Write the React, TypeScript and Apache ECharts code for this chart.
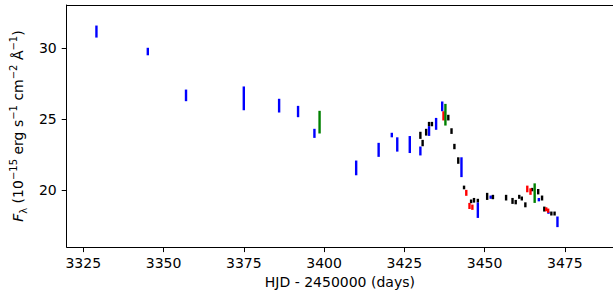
import React, { useEffect, useRef } from "react";
import * as echarts from "echarts";

// HJD - 2450000 (days), lower and upper error-bar ends of F_lambda
const blueT = [3329.1, 3345.1, 3357.0, 3375.0, 3386.0, 3391.9, 3397.0, 3410.0, 3417.0, 3421.1, 3422.8, 3426.7, 3430.0, 3432.7, 3434.9, 3436.8, 3442.8, 3447.9, 3451.9, 3466.9, 3469.9, 3472.7];
const blueLo = [30.75, 29.5, 26.26, 25.62, 25.46, 25.13, 23.67, 21.03, 22.33, 23.71, 22.7, 22.6, 22.43, 23.81, 24.24, 25.55, 20.9, 18.02, 19.37, 19.19, 18.31, 17.37];
const blueHi = [31.6, 30.03, 27.08, 27.3, 26.43, 25.93, 24.31, 22.07, 23.32, 24.03, 23.71, 23.8, 23.06, 24.5, 25.08, 26.24, 22.3, 19.12, 19.6, 19.43, 18.47, 18.12];

const blackT = [3430.0, 3430.7, 3431.8, 3432.7, 3433.6, 3438.7, 3439.7, 3440.6, 3441.8, 3443.6, 3445.8, 3446.7, 3447.9, 3450.8, 3452.6, 3456.7, 3458.7, 3459.7, 3460.8, 3461.6, 3462.7, 3464.8, 3466.7, 3467.9, 3468.6, 3470.8, 3471.8];
const blackLo = [23.6, 23.08, 23.83, 24.5, 24.49, 24.9, 23.95, 22.87, 21.84, 20.04, 19.06, 19.1, 19.12, 19.29, 19.34, 19.25, 19.01, 18.98, 19.37, 19.25, 18.77, 19.9, 19.68, 19.25, 18.47, 18.19, 18.19];
const blackHi = [24.1, 23.53, 24.31, 24.8, 24.8, 25.3, 24.35, 23.25, 22.3, 20.3, 19.32, 19.43, 19.37, 19.79, 19.65, 19.65, 19.43, 19.29, 19.65, 19.53, 19.12, 20.14, 20.06, 19.6, 18.82, 18.47, 18.47];

const redT = [3437.2, 3444.3, 3445.3, 3446.2, 3463.3, 3464.3, 3469.2, 3469.8];
const redLo = [24.9, 19.58, 18.65, 18.59, 19.83, 19.65, 18.49, 18.38];
const redHi = [25.55, 20.0, 19.08, 18.96, 20.3, 20.11, 18.77, 18.68];

const greenT = [3398.6, 3437.8, 3465.6];
const greenLo = [23.98, 24.54, 19.08];
const greenHi = [25.58, 26.07, 20.46];

const xTicks = [3325, 3350, 3375, 3400, 3425, 3450, 3475];
const yTicks = [20, 25, 30];

const X_MIN = 3319.84;
const X_MAX = 3490;
const FONT = "DejaVu Sans";

function makeSeries(name: string, color: string, t: number[], lo: number[], hi: number[]) {
  return {
    name,
    type: "custom",
    xAxisIndex: 0,
    yAxisIndex: 0,
    data: t.map((v, i) => [v, lo[i], hi[i]]),
    encode: { x: 0, y: [1, 2] },
    renderItem: (params: any, api: any) => {
      const a = api.coord([api.value(0), api.value(1)]);
      const b = api.coord([api.value(0), api.value(2)]);
      const w = 2.4;
      return {
        type: "rect",
        shape: { x: a[0] - w / 2, y: b[1], width: w, height: a[1] - b[1] },
        style: { fill: color },
      };
    },
  };
}

export default function App() {
  const ref = useRef<HTMLDivElement>(null);
  useEffect(() => {
    if (!ref.current) return;
    const chart = echarts.init(ref.current, null, { renderer: "svg" });
    chart.setOption({
      animation: false,
      backgroundColor: "#ffffff",
      grid: { left: 64.3, top: 5, width: 551, bottom: 46.7, show: false, containLabel: false },
      xAxis: [
        {
          type: "value",
          min: X_MIN,
          max: X_MAX,
          splitLine: { show: false },
          axisLine: { show: true, lineStyle: { color: "#000", width: 1 } },
          axisTick: { show: true, length: 5, inside: false, lineStyle: { color: "#000" }, customValues: xTicks },
          axisLabel: {
            customValues: xTicks,
            margin: 9,
            color: "#000",
            fontSize: 14,
            fontFamily: FONT,
            formatter: (v: number) => String(v),
          },
          name: "HJD - 2450000 (days)",
          nameLocation: "middle",
          nameGap: 26,
          nameTextStyle: { color: "#000", fontSize: 14, fontFamily: FONT, verticalAlign: "top" },
        },
        {
          type: "value",
          position: "top",
          min: X_MIN,
          max: X_MAX,
          splitLine: { show: false },
          axisLine: { show: true, lineStyle: { color: "#000", width: 1 } },
          axisTick: { show: false },
          axisLabel: { show: false },
        },
      ],
      yAxis: {
        type: "value",
        min: 15.96,
        max: 33.05,
        splitLine: { show: false },
        axisLine: { show: true, lineStyle: { color: "#000", width: 1 } },
        axisTick: { show: true, length: 5, inside: false, lineStyle: { color: "#000" }, customValues: yTicks },
        axisLabel: { customValues: yTicks, margin: 10, color: "#000", fontSize: 14, fontFamily: FONT },
        name: "{i|F}{sub|λ} (10{sup|−15} erg s{sup|−1} cm{sup|−2} Å{sup|−1})",
        nameLocation: "middle",
        nameRotate: 90,
        nameGap: 38,
        nameTextStyle: {
          color: "#000",
          fontSize: 14,
          fontFamily: FONT,
          lineHeight: 20,
          rich: {
            i: { fontSize: 14, fontStyle: "italic", fontFamily: FONT, color: "#000", lineHeight: 20 },
            sub: { fontSize: 10, fontFamily: FONT, color: "#000", verticalAlign: "bottom", lineHeight: 14 },
            sup: { fontSize: 10, fontFamily: FONT, color: "#000", verticalAlign: "top", lineHeight: 14 },
          },
        },
      },
      series: [
        makeSeries("blue", "#0000ff", blueT, blueLo, blueHi),
        makeSeries("black", "#000000", blackT, blackLo, blackHi),
        makeSeries("red", "#ff0000", redT, redLo, redHi),
        makeSeries("green", "#008000", greenT, greenLo, greenHi),
      ],
    });
    return () => chart.dispose();
  }, []);
  return <div ref={ref} style={{ position: "fixed", left: 0, top: 0, width: 613, height: 294 }} />;
}
